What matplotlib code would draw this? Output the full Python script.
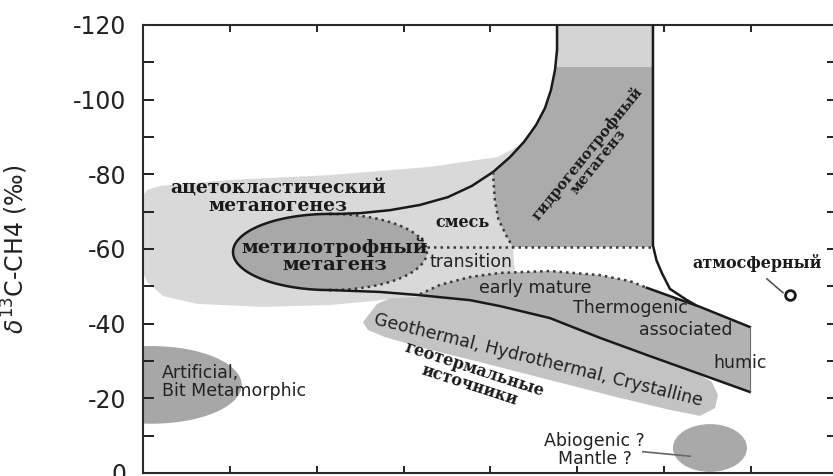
import matplotlib
matplotlib.use('Agg')
import matplotlib.pyplot as plt
from matplotlib.patches import Polygon, Ellipse
import numpy as np

plt.rcParams.update({
    'font.family': 'DejaVu Sans',
    'axes.unicode_minus': False,
})

LIGHT = '#d9d9d9'
GEO = '#c3c3c3'
THERMO = '#b2b2b2'
METIL = '#a8a8a8'
HYDRO = '#ababab'
HYDRO_TOP = '#d4d4d4'
ARTIF = '#a7a7a7'
ABIO = '#a9a9a9'
INK = '#1a1a1a'
DOTS = '#3a3a3a'

# --- field outlines (x = dD-CH4, y = d13C-CH4, permil) -----------------------
light_x = [-400, -397.7, -390.2, -349.9, -292.4, -234.8, -196.3, -180.2, -171.5,
           -187.1, -185.9, -211.8, -242.3, -257.8, -269.4, -292.4, -331.0,
           -368.9, -388.5, -397.7, -400]
light_y = [-74.2, -75.8, -76.9, -78.5, -79.8, -82.0, -84.6, -88.4, -89.2,
           -60.2, -53.0, -47.1, -47.4, -46.6, -46.0, -45.0, -44.5,
           -45.3, -47.4, -51.2, -53.8]

# curve A: upper boundary of hydrogenotrophic field, down to the methylotrophic ellipse
curveA_x = [-161.7, -161.7, -162.9, -165.2, -168.6, -173.8, -180.7, -188.8, -198.6,
            -210.7, -224.5, -240.6, -257.9, -275.1, -288.4, -292.4]
curveA_y = [-120, -113.3, -107.9, -102.6, -97.8, -93.2, -88.7, -84.6, -80.6,
            -76.9, -73.9, -71.8, -70.4, -69.6, -69.4, -69.4]
hydro_split = 9   # curve A points that bound the hydrogenotrophic field

# dotted left boundary of hydrogenotrophic field
hydro_dot_x = [-198.6, -197.5, -195.5, -190.5, -187.1]
hydro_dot_y = [-80.6, -73.1, -68.0, -63.2, -60.5]
hydro_right = -106.5
hydro_bottom = -60.5
hydro_band = -108.75

# curve B: right boundary, bending into the thermogenic field
curveB_x = [-106.5, -106.5, -104.5, -101.3, -96.7, -86.9, -82.0]
curveB_y = [-120, -61.0, -57.0, -53.5, -49.3, -46.3, -45.0]

# lower black line of the biogenic field
lower_x = [-292.4, -263.6, -242.3, -211.8, -194.5, -165.8, -137.0, -108.2, -79.4, -50.7]
lower_y = [-49.0, -48.5, -47.7, -46.3, -44.7, -41.5, -36.2, -31.3, -26.5, -21.7]

# thermogenic field: dotted "early mature" arc then solid upper line
arc_x = [-240.6, -229.0, -211.8, -194.5, -165.8, -137.0, -119.7, -110.0]
arc_y = [-47.9, -50.4, -52.5, -53.6, -54.1, -53.0, -51.4, -49.6]
upper_x = [-110.0, -79.4, -50.7]
upper_y = [-49.6, -44.5, -39.1]

# geothermal / hydrothermal blob
geo_x = [-273.4, -265.3, -257.8, -240.6, -211.8, -165.8, -137.0, -108.2, -79.4,
         -72.6, -69.1, -70.8, -79.4, -96.7, -125.5, -165.8, -206.1, -240.6,
         -260.7, -270.5]
geo_y = [-40.4, -45.3, -46.8, -47.3, -46.2, -41.4, -36.0, -31.1, -26.2,
         -24.4, -20.9, -17.4, -15.3, -16.9, -20.1, -24.9, -29.7, -33.7,
         -36.4, -38.3]

# ellipses: (centre x, centre y, width, height)
metil_ell = (-292.4, -59.2, 111.6, 20.4)
artif_ell = (-395.0, -23.6, 103.6, 20.8)
abio_ell = (-73.7, -6.7, 42.6, 12.8)

atm_point = (-27.7, -47.7)
atm_leader = ([-40.9, -31.7], [-52.0, -48.3])
mantle_leader = ([-112.3, -85.2], [-5.7, -4.5])

fig = plt.figure(figsize=(8.33, 4.76), dpi=100)
ax = fig.add_axes([143 / 833, 3 / 476, 695 / 833, 448 / 476])

ax.add_patch(Polygon(np.column_stack([light_x, light_y]), closed=True,
                     fc=LIGHT, ec='none', zorder=1))
ax.add_patch(Polygon(np.column_stack([geo_x, geo_y]), closed=True,
                     fc=GEO, ec='none', zorder=1.2))
ax.add_patch(Ellipse(artif_ell[:2], artif_ell[2], artif_ell[3],
                     fc=ARTIF, ec='none', zorder=1))
ax.add_patch(Ellipse(abio_ell[:2], abio_ell[2], abio_ell[3],
                     fc=ABIO, ec='none', zorder=1))

# hydrogenotrophic field
hx = curveA_x[:hydro_split] + hydro_dot_x[1:] + [hydro_right, hydro_right]
hy = curveA_y[:hydro_split] + hydro_dot_y[1:] + [hydro_bottom, -120]
ax.add_patch(Polygon(np.column_stack([hx, hy]), closed=True,
                     fc=HYDRO, ec='none', zorder=2))
ax.add_patch(Polygon([[curveA_x[0], -120], [curveA_x[2], hydro_band],
                      [hydro_right, hydro_band], [hydro_right, -120]],
                     closed=True, fc=HYDRO_TOP, ec='none', zorder=2.1))

# thermogenic field
tx = arc_x + upper_x[1:] + lower_x[::-1][:-2]
ty = arc_y + upper_y[1:] + lower_y[::-1][:-2]
ax.add_patch(Polygon(np.column_stack([tx, ty]), closed=True,
                     fc=THERMO, ec='none', zorder=2))

# methylotrophic ellipse
cx, cy, w, h = metil_ell
ax.add_patch(Ellipse((cx, cy), w, h, fc=METIL, ec='none', zorder=3))
t = np.linspace(0.5 * np.pi, 1.5 * np.pi, 80)
ax.plot(cx + w / 2 * np.cos(t), cy + h / 2 * np.sin(t), color=INK, lw=1.8, zorder=4)
t2 = np.linspace(-0.5 * np.pi, 0.5 * np.pi, 80)
ax.plot(cx + w / 2 * np.cos(t2), cy + h / 2 * np.sin(t2), color=DOTS, lw=1.8,
        ls=(0, (1, 1.6)), zorder=4)

# solid boundaries
ax.plot(curveA_x, curveA_y, color=INK, lw=1.8, zorder=4)
ax.plot(curveB_x, curveB_y, color=INK, lw=1.8, zorder=4)
ax.plot(lower_x, lower_y, color=INK, lw=1.8, zorder=4)
ax.plot(upper_x, upper_y, color=INK, lw=1.8, zorder=4)
ax.plot([upper_x[-1], lower_x[-1]], [upper_y[-1], lower_y[-1]], color='#6a6a6a',
        lw=0.8, zorder=4)

# dotted boundaries
dot = dict(color=DOTS, lw=1.8, ls=(0, (1, 1.6)), zorder=4)
ax.plot(hydro_dot_x, hydro_dot_y, **dot)
ax.plot([cx + w / 2, hydro_right], [hydro_bottom, hydro_bottom], **dot)
ax.plot(arc_x, arc_y, **dot)

# atmospheric point and leaders
ax.plot(*atm_leader, color='#555555', lw=1.2, zorder=4)
ax.plot(*atm_point, 'o', ms=7, mfc='white', mec=INK, mew=2, zorder=5)
ax.plot(*mantle_leader, color='#666666', lw=1.2, zorder=4)

# labels
serif = dict(family='DejaVu Serif', fontweight='bold', color=INK, zorder=6,
             ha='center', va='center', linespacing=0.95)
sans = dict(family='DejaVu Sans', color='#222222', zorder=6,
            ha='center', va='center', fontsize=12.5)

ax.text(-322.3, -73.9, 'ацетокластический\nметаногенез', fontsize=13.5, **serif)
ax.text(-289.5, -58.1, 'метилотрофный\nметагенз', fontsize=14, **serif)
ax.text(-216.4, -67.0, 'смесь', fontsize=11.5, **serif)
ax.text(-141.6, -84.6, 'гидрогенотрофный\nметагенз', fontsize=10.5, rotation=51, **serif)
ax.text(-46.6, -56.3, 'атмосферный', fontsize=11.5, **serif)
ax.text(-210.7, -25.7, 'геотермальные\nисточники', fontsize=11.5, rotation=-18, **serif)

ax.text(-211.2, -56.5, 'transition', **sans)
ax.text(-174.4, -49.6, 'early mature', **sans)
ax.text(-119.2, -44.2, 'Thermogenic', **sans)
ax.text(-87.5, -38.3, 'associated', **sans)
ax.text(-56.4, -29.5, 'humic', **sans)
ax.text(-172.7, -30.3, 'Geothermal, Hydrothermal, Crystalline', rotation=-14, **sans)
ax.text(-140.1, -6.2, 'Abiogenic ?\nMantle ?', linespacing=1.0, **sans)
ax.text(-389.1, -24.5, 'Artificial,\nBit Metamorphic', family='DejaVu Sans',
        color='#222222', fontsize=12.5, ha='left', va='center', linespacing=1.0,
        zorder=6)

# axes
ax.set_xlim(-400, 0)
ax.set_ylim(0, -120)
ax.set_yticks([-120, -100, -80, -60, -40, -20, 0])
ax.set_yticklabels(['-120', '-100', '-80', '-60', '-40', '-20', '0'])
ax.set_yticks(np.arange(-110, 0, 20), minor=True)
ax.set_xticks(np.arange(-350, 0, 50))
ax.set_xticklabels([])
ax.tick_params(axis='y', which='both', direction='in', length=8, width=1.4,
               right=True, labelsize=17, pad=12, colors='#222222')
ax.tick_params(axis='x', which='both', direction='in', length=5, width=1.4,
               top=True, colors='#222222')
for s in ax.spines.values():
    s.set_linewidth(1.5)
    s.set_color('#2a2a2a')
ax.set_ylabel(r'$\delta^{13}$C-CH4 (‰)', fontsize=17, color='#222222')
ax.yaxis.set_label_coords(-0.163, 0.5)

fig.savefig('out.png', dpi=100)
